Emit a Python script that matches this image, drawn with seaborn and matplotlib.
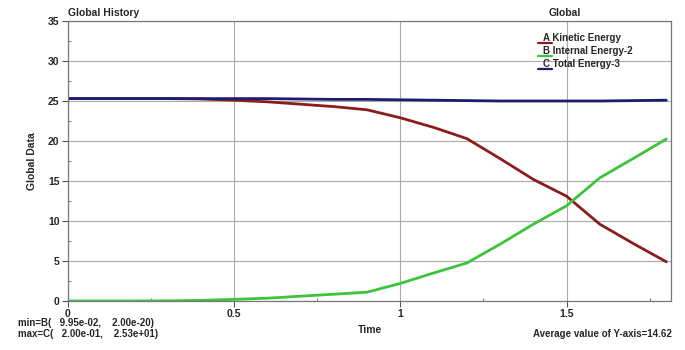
import pandas as pd
import matplotlib.pyplot as plt
import seaborn as sns
from matplotlib.lines import Line2D

# === data ===
time = [0.0, 0.1, 0.2, 0.3, 0.4, 0.5, 0.6, 0.7, 0.8, 0.9, 1.0, 1.1, 1.2, 1.3, 1.4, 1.5, 1.6, 1.7, 1.8]
kinetic = [25.3, 25.3, 25.3, 25.3, 25.25, 25.1, 24.9, 24.6, 24.3, 23.9, 22.9, 21.7, 20.3, 17.8, 15.2, 13.1, 9.6, 7.2, 4.9]
internal = [0.0, 0.0, 0.0, 0.02, 0.08, 0.2, 0.35, 0.6, 0.85, 1.1, 2.2, 3.5, 4.75, 7.1, 9.6, 11.9, 15.4, 17.8, 20.25]
total = [25.3, 25.3, 25.3, 25.3, 25.3, 25.3, 25.3, 25.25, 25.2, 25.2, 25.15, 25.1, 25.05, 25.0, 25.0, 25.0, 25.0, 25.05, 25.1]

labels = ["A Kinetic Energy", "B Internal Energy-2", "C Total Energy-3"]
colors = ["#8b1c1c", "#3cc43c", "#1c1c70"]

df = pd.DataFrame({"Time": time * 3,
                   "Value": kinetic + internal + total,
                   "Series": [labels[0]] * len(time) + [labels[1]] * len(time) + [labels[2]] * len(time)})

sns.set_style("white")
plt.rcParams["font.family"] = ["Liberation Sans", "DejaVu Sans"]
plt.rcParams["font.weight"] = "bold"

fig = plt.figure(figsize=(6.85, 3.5), dpi=100)
ax = fig.add_axes([0.099, 0.14, 0.881, 0.80])

sns.lineplot(data=df, x="Time", y="Value", hue="Series", palette=colors,
             linewidth=2, legend=False, ax=ax)

ax.set_xlim(0, 1.815)
ax.set_ylim(0, 35)
ax.set_xticks([0, 0.5, 1, 1.5])
ax.set_xticklabels(["0", "0.5", "1", "1.5"])
ax.set_xticks([0.25, 0.75, 1.25, 1.75], minor=True)
ax.set_yticks(range(0, 36, 5))
ax.set_yticks([2.5 + 5 * i for i in range(7)], minor=True)
ax.tick_params(axis="both", which="both", bottom=True, left=True)
ax.tick_params(axis="both", which="major", length=4, width=0.8, labelsize=7.5, color="#555555", pad=2)
ax.tick_params(axis="both", which="minor", length=2.5, width=0.8, color="#888888", direction="in")
ax.grid(True, which="major", color="#aaaaaa", linewidth=0.8)
for s in ax.spines.values():
    s.set_color("#777777")
    s.set_linewidth(0.9)

ax.set_xlabel("Time", fontsize=7.5, fontweight="bold", labelpad=4)
ax.set_ylabel("Global Data", fontsize=7.5, fontweight="bold", labelpad=8)

ax.text(0, 1.01, "Global History", transform=ax.transAxes, fontsize=7.5, fontweight="bold", va="bottom")
ax.text(0.796, 1.01, "Global", transform=ax.transAxes, fontsize=7.5, fontweight="bold", va="bottom")

# legend: small line under the series letter
for i, (lab, c) in enumerate(zip(labels, colors)):
    y = 0.939 - i * 0.047
    ax.text(0.788, y, lab, transform=ax.transAxes, fontsize=7, fontweight="bold", va="center")
    ax.add_line(Line2D([0.779, 0.803], [y - 0.016, y - 0.016], transform=ax.transAxes,
                       color=c, linewidth=1.6))

fig.text(0.026, 0.077, "min=B(   9.95e-02,    2.00e-20)", fontsize=7, fontweight="bold", va="center")
fig.text(0.026, 0.047, "max=C(   2.00e-01,    2.53e+01)", fontsize=7, fontweight="bold", va="center")
fig.text(0.981, 0.047, "Average value of Y-axis=14.62", fontsize=7, fontweight="bold", ha="right", va="center")

fig.savefig("out.png", dpi=100)
